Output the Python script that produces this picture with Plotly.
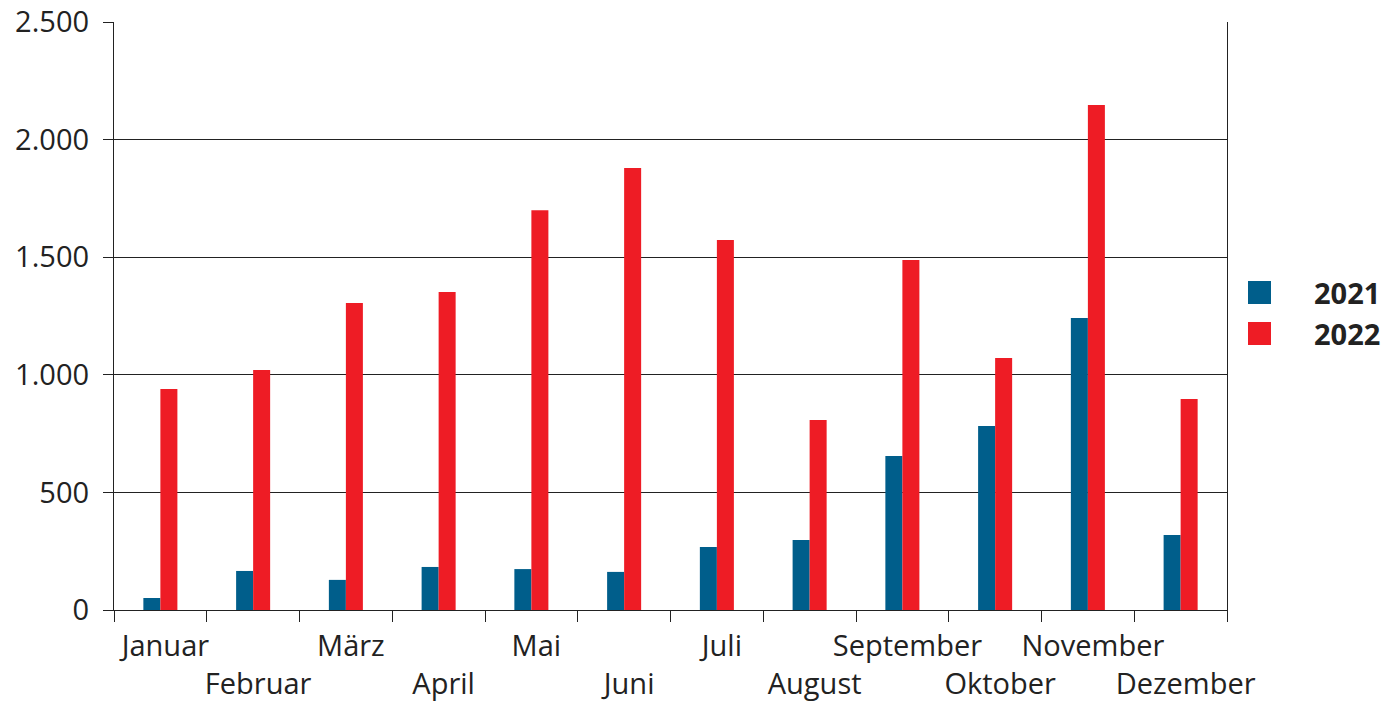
import plotly.graph_objects as go

months = ["Januar", "Februar", "März", "April", "Mai", "Juni", "Juli",
          "August", "September", "Oktober", "November", "Dezember"]
values_2021 = [51, 166, 128, 183, 174, 162, 268, 298, 655, 782, 1241, 319]
values_2022 = [940, 1020, 1305, 1352, 1700, 1879, 1573, 808, 1488, 1071, 2147, 897]
series_names = ["2021", "2022"]
colors = ["#005e8b", "#ee1c25"]
y_ticks = [0, 500, 1000, 1500, 2000, 2500]
y_tick_labels = ["0", "500", "1.000", "1.500", "2.000", "2.500"]

tick_text = [m if i % 2 == 0 else "<br>" + m for i, m in enumerate(months)]

FONT = "Open Sans"
TXT = "#222222"

fig = go.Figure()
for name, vals, col in zip(series_names, [values_2021, values_2022], colors):
    fig.add_trace(go.Bar(x=months, y=vals, name=name, marker=dict(color=col, line=dict(width=0)),
                         showlegend=False, hoverinfo="skip"))

fig.update_layout(
    width=1386, height=706,
    margin=dict(l=114, r=159, t=22, b=96, autoexpand=False),
    paper_bgcolor="white", plot_bgcolor="white",
    barmode="group", bargap=0.633, bargroupgap=0,
    font=dict(family=FONT, size=29, color=TXT),
)
fig.update_xaxes(
    type="category", tickmode="array", tickvals=months, ticktext=tick_text,
    tickangle=0, automargin=False, ticklabelstandoff=10, ticklabelshift=5,
    ticks="outside", tickson="boundaries", ticklen=11, tickcolor="#222", tickwidth=1.3,
    showline=True, linecolor="#222", linewidth=1.3, mirror=False,
    showgrid=False, tickfont=dict(size=29, color=TXT, family=FONT),
)
fig.update_yaxes(
    range=[0, 2500], tickmode="array", tickvals=y_ticks, ticktext=y_tick_labels,
    automargin=False, ticklabelstandoff=8,
    ticks="outside", ticklen=10, tickcolor="#222", tickwidth=1.3,
    showline=True, linecolor="#222", linewidth=1.3, mirror=True,
    showgrid=True, gridcolor="#222", gridwidth=1.3, zeroline=False,
    tickfont=dict(size=29, color=TXT, family=FONT),
)

# manual legend
plot_w = 1386 - 114 - 159
plot_h = 706 - 22 - 96
def px_x(p):
    return (p - 114) / plot_w
def px_y(p):
    return (706 - 96 - p) / plot_h

for name, col, top in zip(series_names, colors, [281, 322]):
    fig.add_shape(type="rect", xref="paper", yref="paper",
                  x0=px_x(1248), x1=px_x(1271), y0=px_y(top + 23), y1=px_y(top),
                  fillcolor=col, line=dict(width=0))
    fig.add_annotation(xref="paper", yref="paper", x=px_x(1312), y=px_y(top + 11.5),
                       text="<b>" + name + "</b>", showarrow=False, xanchor="left", yanchor="middle",
                       font=dict(family=FONT, size=29, color=TXT))

fig.write_html("out.html", config={"displayModeBar": False},
               post_script="document.body.style.margin='0';document.body.style.overflow='hidden';")
